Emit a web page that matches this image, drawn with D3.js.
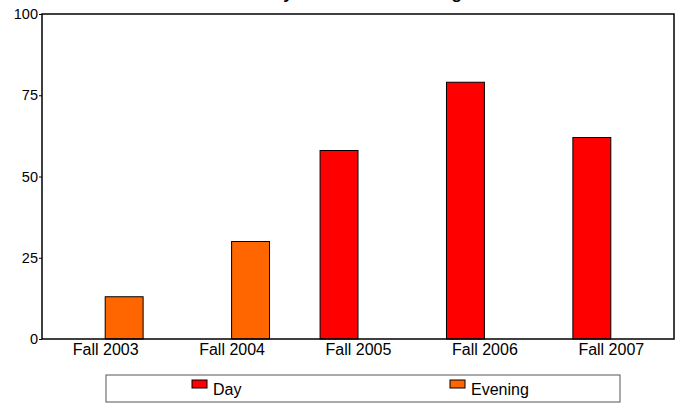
<!DOCTYPE html>
<html>
<head>
<meta charset="utf-8">
<script src="https://cdn.jsdelivr.net/npm/d3@7"></script>
<style>
  body { margin: 0; background: #fff; }
  text { font-family: Arial, "Liberation Sans", sans-serif; }
</style>
</head>
<body>
<div id="chart-area"></div>
<script>
var terms = ["Fall 2003", "Fall 2004", "Fall 2005", "Fall 2006", "Fall 2007"];
var seriesNames = ["Day", "Evening"];
var dayValues = [0, 0, 58, 79, 62];
var eveningValues = [13, 30, 0, 0, 0];
var yTicks = [0, 25, 50, 75, 100];
var colors = ["#ff0000", "#ff6600"];

var svg = d3.select("#chart-area").append("svg")
    .attr("width", 684)
    .attr("height", 406);

var plotLeft = 42, plotRight = 674, plotTop = 14, plotBottom = 339;

// title sits mostly above the page edge, only descenders show
svg.append("text")
    .attr("x", 322)
    .attr("y", -1)
    .attr("text-anchor", "middle")
    .attr("font-size", 17)
    .attr("font-weight", "bold")
    .text("Student Body Headcount Trending");

var x = d3.scaleBand().domain(terms).range([plotLeft, plotRight]).paddingInner(0.4).paddingOuter(0.2);
var xs = d3.scaleBand().domain(seriesNames).range([0, x.bandwidth()]);
var y = d3.scaleLinear().domain([0, 100]).range([plotBottom, plotTop]);

var rows = terms.map((t, i)=>{
    return {term: t, values: [dayValues[i], eveningValues[i]]};
});

var groups = svg.selectAll("g.term").data(rows).enter().append("g")
    .attr("class", "term")
    .attr("transform", (d)=> "translate(" + x(d.term) + ",0)");

groups.selectAll("rect").data((d)=> d.values.map((v, j)=> ({name: seriesNames[j], v: v, j: j})))
    .enter().filter((d)=> d.v > 0).append("rect")
    .attr("x", (d)=> xs(d.name))
    .attr("y", (d)=> y(d.v))
    .attr("width", xs.bandwidth())
    .attr("height", (d)=> y(0) - y(d.v))
    .attr("fill", (d)=> colors[d.j])
    .attr("stroke", "#000")
    .attr("stroke-width", 1);

// plot frame
svg.append("rect")
    .attr("x", plotLeft).attr("y", plotTop)
    .attr("width", plotRight - plotLeft).attr("height", plotBottom - plotTop)
    .attr("fill", "none")
    .attr("stroke", "#000")
    .attr("stroke-width", 1.5);

var yAxis = svg.append("g")
    .attr("transform", "translate(" + plotLeft + ",0)")
    .call(d3.axisLeft(y).tickValues(yTicks).tickSize(3).tickPadding(1));
yAxis.select(".domain").remove();
yAxis.selectAll("text").attr("font-size", 14.5).attr("fill", "#000")
    .style("font-family", "Arial, 'Liberation Sans', sans-serif");

var xAxis = svg.append("g")
    .attr("transform", "translate(0," + plotBottom + ")")
    .call(d3.axisBottom(d3.scalePoint().domain(terms)
        .range([x(terms[0]) + x.bandwidth() / 2, x(terms[terms.length - 1]) + x.bandwidth() / 2]))
        .tickSize(0).tickPadding(5));
xAxis.select(".domain").remove();
xAxis.selectAll("text").attr("font-size", 16).attr("fill", "#000")
    .style("font-family", "Arial, 'Liberation Sans', sans-serif");

// legend
svg.append("rect")
    .attr("x", 106).attr("y", 375)
    .attr("width", 514).attr("height", 27)
    .attr("fill", "#fff")
    .attr("stroke", "#555")
    .attr("stroke-width", 1);

var legendX = [192, 450];
seriesNames.forEach((name, i)=>{
    svg.append("rect")
        .attr("x", legendX[i]).attr("y", 380)
        .attr("width", 15).attr("height", 8)
        .attr("fill", colors[i])
        .attr("stroke", "#000");
    svg.append("text")
        .attr("x", legendX[i] + 21).attr("y", 395)
        .attr("font-size", 16)
        .text(name);
});
</script>
</body>
</html>
